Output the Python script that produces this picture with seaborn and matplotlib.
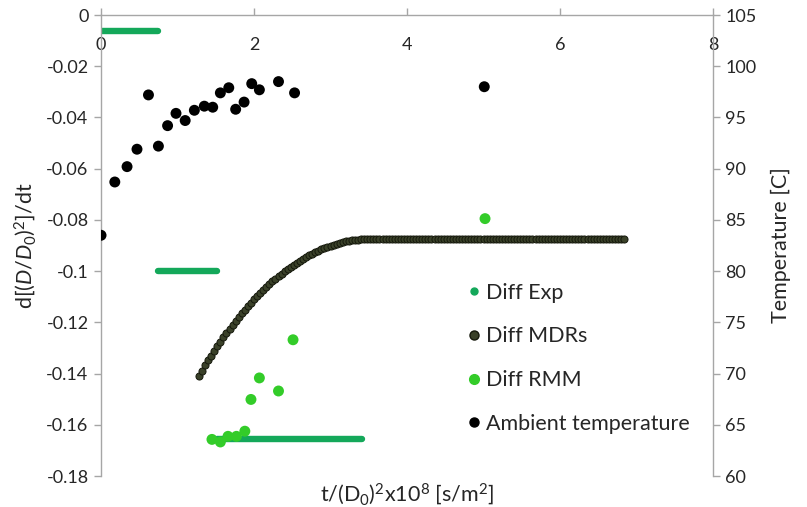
import matplotlib
matplotlib.use("Agg")
import matplotlib.pyplot as plt
from matplotlib.lines import Line2D
from matplotlib.ticker import FuncFormatter, MultipleLocator
import pandas as pd
import seaborn as sns

sns.set_theme(style="white")
plt.rcParams["font.family"] = ["Lato", "DejaVu Sans"]
plt.rcParams["axes.unicode_minus"] = False
plt.rcParams["mathtext.fontset"] = "custom"
plt.rcParams["mathtext.rm"] = "Lato"
plt.rcParams["mathtext.it"] = "Lato:italic"
plt.rcParams["mathtext.bf"] = "Lato:bold"

# ---- data -------------------------------------------------------------
# Diff Exp: piecewise-constant evaporation rate per stage
exp_start = [0.0, 0.75, 1.52]
exp_end = [0.75, 1.52, 3.41]
exp_rate = [-0.0062, -0.1, -0.1657]

# Diff MDRs: modelled rate vs normalised time
mdr_t = [
    1.28, 1.32, 1.36, 1.40, 1.44, 1.48, 1.52, 1.56, 1.60, 1.64,
    1.68, 1.72, 1.76, 1.80, 1.84, 1.88, 1.92, 1.96, 2.00, 2.04,
    2.08, 2.12, 2.16, 2.20, 2.24, 2.28, 2.32, 2.36, 2.40, 2.44,
    2.48, 2.52, 2.56, 2.60, 2.64, 2.68, 2.72, 2.76, 2.80, 2.84,
    2.88, 2.92, 2.96, 3.00, 3.04, 3.08, 3.12, 3.16, 3.20, 3.24,
    3.28, 3.32, 3.36, 3.40, 3.44, 3.48, 3.52, 3.56, 3.60, 3.64,
    3.68, 3.72, 3.76, 3.80, 3.84, 3.88, 3.92, 3.96, 4.00, 4.04,
    4.08, 4.12, 4.16, 4.20, 4.24, 4.28, 4.32, 4.36, 4.40, 4.44,
    4.48, 4.52, 4.56, 4.60, 4.64, 4.68, 4.72, 4.76, 4.80, 4.84,
    4.88, 4.92, 4.96, 5.00, 5.04, 5.08, 5.12, 5.16, 5.20, 5.24,
    5.28, 5.32, 5.36, 5.40, 5.44, 5.48, 5.52, 5.56, 5.60, 5.64,
    5.68, 5.72, 5.76, 5.80, 5.84, 5.88, 5.92, 5.96, 6.00, 6.04,
    6.08, 6.12, 6.16, 6.20, 6.24, 6.28, 6.32, 6.36, 6.40, 6.44,
    6.48, 6.52, 6.56, 6.60, 6.64, 6.68, 6.72, 6.76, 6.80, 6.84,
]
mdr_rate = [
    -0.1410, -0.1390, -0.1368, -0.1348, -0.1330, -0.1312, -0.1294, -0.1276, -0.1259, -0.1242,
    -0.1226, -0.1210, -0.1195, -0.1180, -0.1165, -0.1151, -0.1137, -0.1123, -0.1110, -0.1097,
    -0.1085, -0.1073, -0.1062, -0.1051, -0.1040, -0.1030, -0.1020, -0.1010, -0.1001, -0.0992,
    -0.0983, -0.0975, -0.0967, -0.0959, -0.0952, -0.0945, -0.0938, -0.0932, -0.0926, -0.0920,
    -0.0915, -0.0910, -0.0905, -0.0901, -0.0897, -0.0893, -0.0890, -0.0887, -0.0884, -0.0882,
    -0.0880, -0.0878, -0.0877, -0.0876, -0.0876, -0.0876, -0.0876, -0.0876, -0.0876, -0.0876,
    -0.0876, -0.0876, -0.0876, -0.0876, -0.0876, -0.0876, -0.0876, -0.0876, -0.0876, -0.0876,
    -0.0876, -0.0876, -0.0876, -0.0876, -0.0876, -0.0876, -0.0876, -0.0876, -0.0876, -0.0876,
    -0.0876, -0.0876, -0.0876, -0.0876, -0.0876, -0.0876, -0.0876, -0.0876, -0.0876, -0.0876,
    -0.0876, -0.0876, -0.0876, -0.0876, -0.0876, -0.0876, -0.0876, -0.0876, -0.0876, -0.0876,
    -0.0876, -0.0876, -0.0876, -0.0876, -0.0876, -0.0876, -0.0876, -0.0876, -0.0876, -0.0876,
    -0.0876, -0.0876, -0.0876, -0.0876, -0.0876, -0.0876, -0.0876, -0.0876, -0.0876, -0.0876,
    -0.0876, -0.0876, -0.0876, -0.0876, -0.0876, -0.0876, -0.0876, -0.0876, -0.0876, -0.0876,
    -0.0876, -0.0876, -0.0876, -0.0876, -0.0876, -0.0876, -0.0876, -0.0876, -0.0876, -0.0876,
]

# Diff RMM
rmm_t = [1.45, 1.56, 1.66, 1.77, 1.88, 1.96, 2.07, 2.32, 2.51, 5.02]
rmm_rate = [-0.1657, -0.1667, -0.1645, -0.1645, -0.1625, -0.1501, -0.1417, -0.1468, -0.1268, -0.0795]

# Ambient temperature [C]
amb_t = [0.0, 0.18, 0.34, 0.47, 0.62, 0.75, 0.87, 0.98, 1.10, 1.22, 1.35,
         1.46, 1.56, 1.67, 1.76, 1.87, 1.97, 2.07, 2.32, 2.53, 5.01]
amb_temp = [83.5, 88.7, 90.2, 91.9, 97.2, 92.2, 94.2, 95.4, 94.7, 95.7, 96.1,
            96.0, 97.4, 97.9, 95.8, 96.5, 98.3, 97.7, 98.5, 97.4, 98.0]

x_ticks = [0, 2, 4, 6, 8]
series_names = ["Diff Exp", "Diff MDRs", "Diff RMM", "Ambient temperature"]

# ---- styling ----------------------------------------------------------
C_EXP = "#14a85a"
C_MDR = "#3a4129"
C_RMM = "#33cc29"
C_AMB = "#000000"
C_AXIS = "#a6a6a6"
TICK_FS = 13
LABEL_FS = 15.5

fig = plt.figure(figsize=(8.07, 5.07), dpi=100)
ax = fig.add_axes([0.1252, 0.0611, 0.8835 - 0.1252, 0.9704 - 0.0611])

# Diff Exp stages as thick flat segments
exp_df = pd.DataFrame({
    "t": exp_start + exp_end,
    "rate": exp_rate + exp_rate,
    "stage": list(range(len(exp_rate))) * 2,
})
sns.lineplot(data=exp_df, x="t", y="rate", units="stage", estimator=None,
             color=C_EXP, lw=4.6, solid_capstyle="round", legend=False, ax=ax,
             zorder=2)

sns.scatterplot(x=mdr_t, y=mdr_rate, s=26, color=C_MDR, edgecolor="#15180c",
                linewidth=0.7, legend=False, ax=ax, zorder=3)
sns.scatterplot(x=rmm_t, y=rmm_rate, s=62, color=C_RMM, edgecolor="none",
                legend=False, ax=ax, zorder=4)

ax.set_xlim(0, 8)
ax.set_ylim(-0.18, 0)
ax.set_xticks(x_ticks)
ax.xaxis.set_ticks_position("top")
ax.tick_params(axis="x", which="major", top=True, bottom=False,
               labeltop=True, labelbottom=False, direction="out",
               length=5, width=1, color=C_AXIS, labelsize=TICK_FS, pad=-21)
for lab in ax.get_xticklabels():
    lab.set_va("top")
ax.yaxis.set_major_locator(MultipleLocator(0.02))
ax.yaxis.set_major_formatter(FuncFormatter(
    lambda v, _: "0" if abs(v) < 1e-9 else f"{round(v, 2):g}"))
ax.tick_params(axis="y", which="major", left=True, direction="out",
               length=5, width=1, color=C_AXIS, labelsize=TICK_FS, pad=4)

ax.set_xlabel(r"t/(D$_0$)$^2$x10$^8$ [s/m$^2$]", fontsize=LABEL_FS)
ax.xaxis.set_label_position("bottom")
ax.xaxis.labelpad = 4
ax.set_ylabel(r"d[($D$/$D_0$)$^2$]/dt", fontsize=LABEL_FS, labelpad=6)

for side in ("top", "left"):
    ax.spines[side].set_color(C_AXIS)
    ax.spines[side].set_linewidth(1)
ax.spines["bottom"].set_visible(False)
ax.spines["right"].set_visible(False)

# Ambient temperature on the secondary axis
ax2 = ax.twinx()
sns.scatterplot(x=amb_t, y=amb_temp, s=62, color=C_AMB, edgecolor="none",
                legend=False, ax=ax2, zorder=5)
ax2.set_ylim(60, 105)
ax2.yaxis.set_major_locator(MultipleLocator(5))
ax2.tick_params(axis="y", which="major", right=True, direction="out",
                length=5, width=1, color=C_AXIS, labelsize=TICK_FS, pad=4)
ax2.set_ylabel("Temperature [C]", fontsize=LABEL_FS, labelpad=10)
for side in ("top", "left", "bottom"):
    ax2.spines[side].set_visible(False)
ax2.spines["right"].set_color(C_AXIS)
ax2.spines["right"].set_linewidth(1)
ax2.set_xlim(0, 8)

handles = [
    Line2D([], [], ls="", marker="o", markersize=5, color=C_EXP),
    Line2D([], [], ls="", marker="o", markersize=6.5, color=C_MDR,
           markeredgecolor="#15180c"),
    Line2D([], [], ls="", marker="o", markersize=7, color=C_RMM),
    Line2D([], [], ls="", marker="o", markersize=6.5, color=C_AMB),
]
fig.legend(handles, series_names, loc="upper left",
           bbox_to_anchor=(452 / 807, 1 - 272 / 507), frameon=False,
           fontsize=LABEL_FS, labelspacing=1.1, handletextpad=0.1,
           handlelength=1.0, borderpad=0)

fig.savefig("out.png", dpi=100)
